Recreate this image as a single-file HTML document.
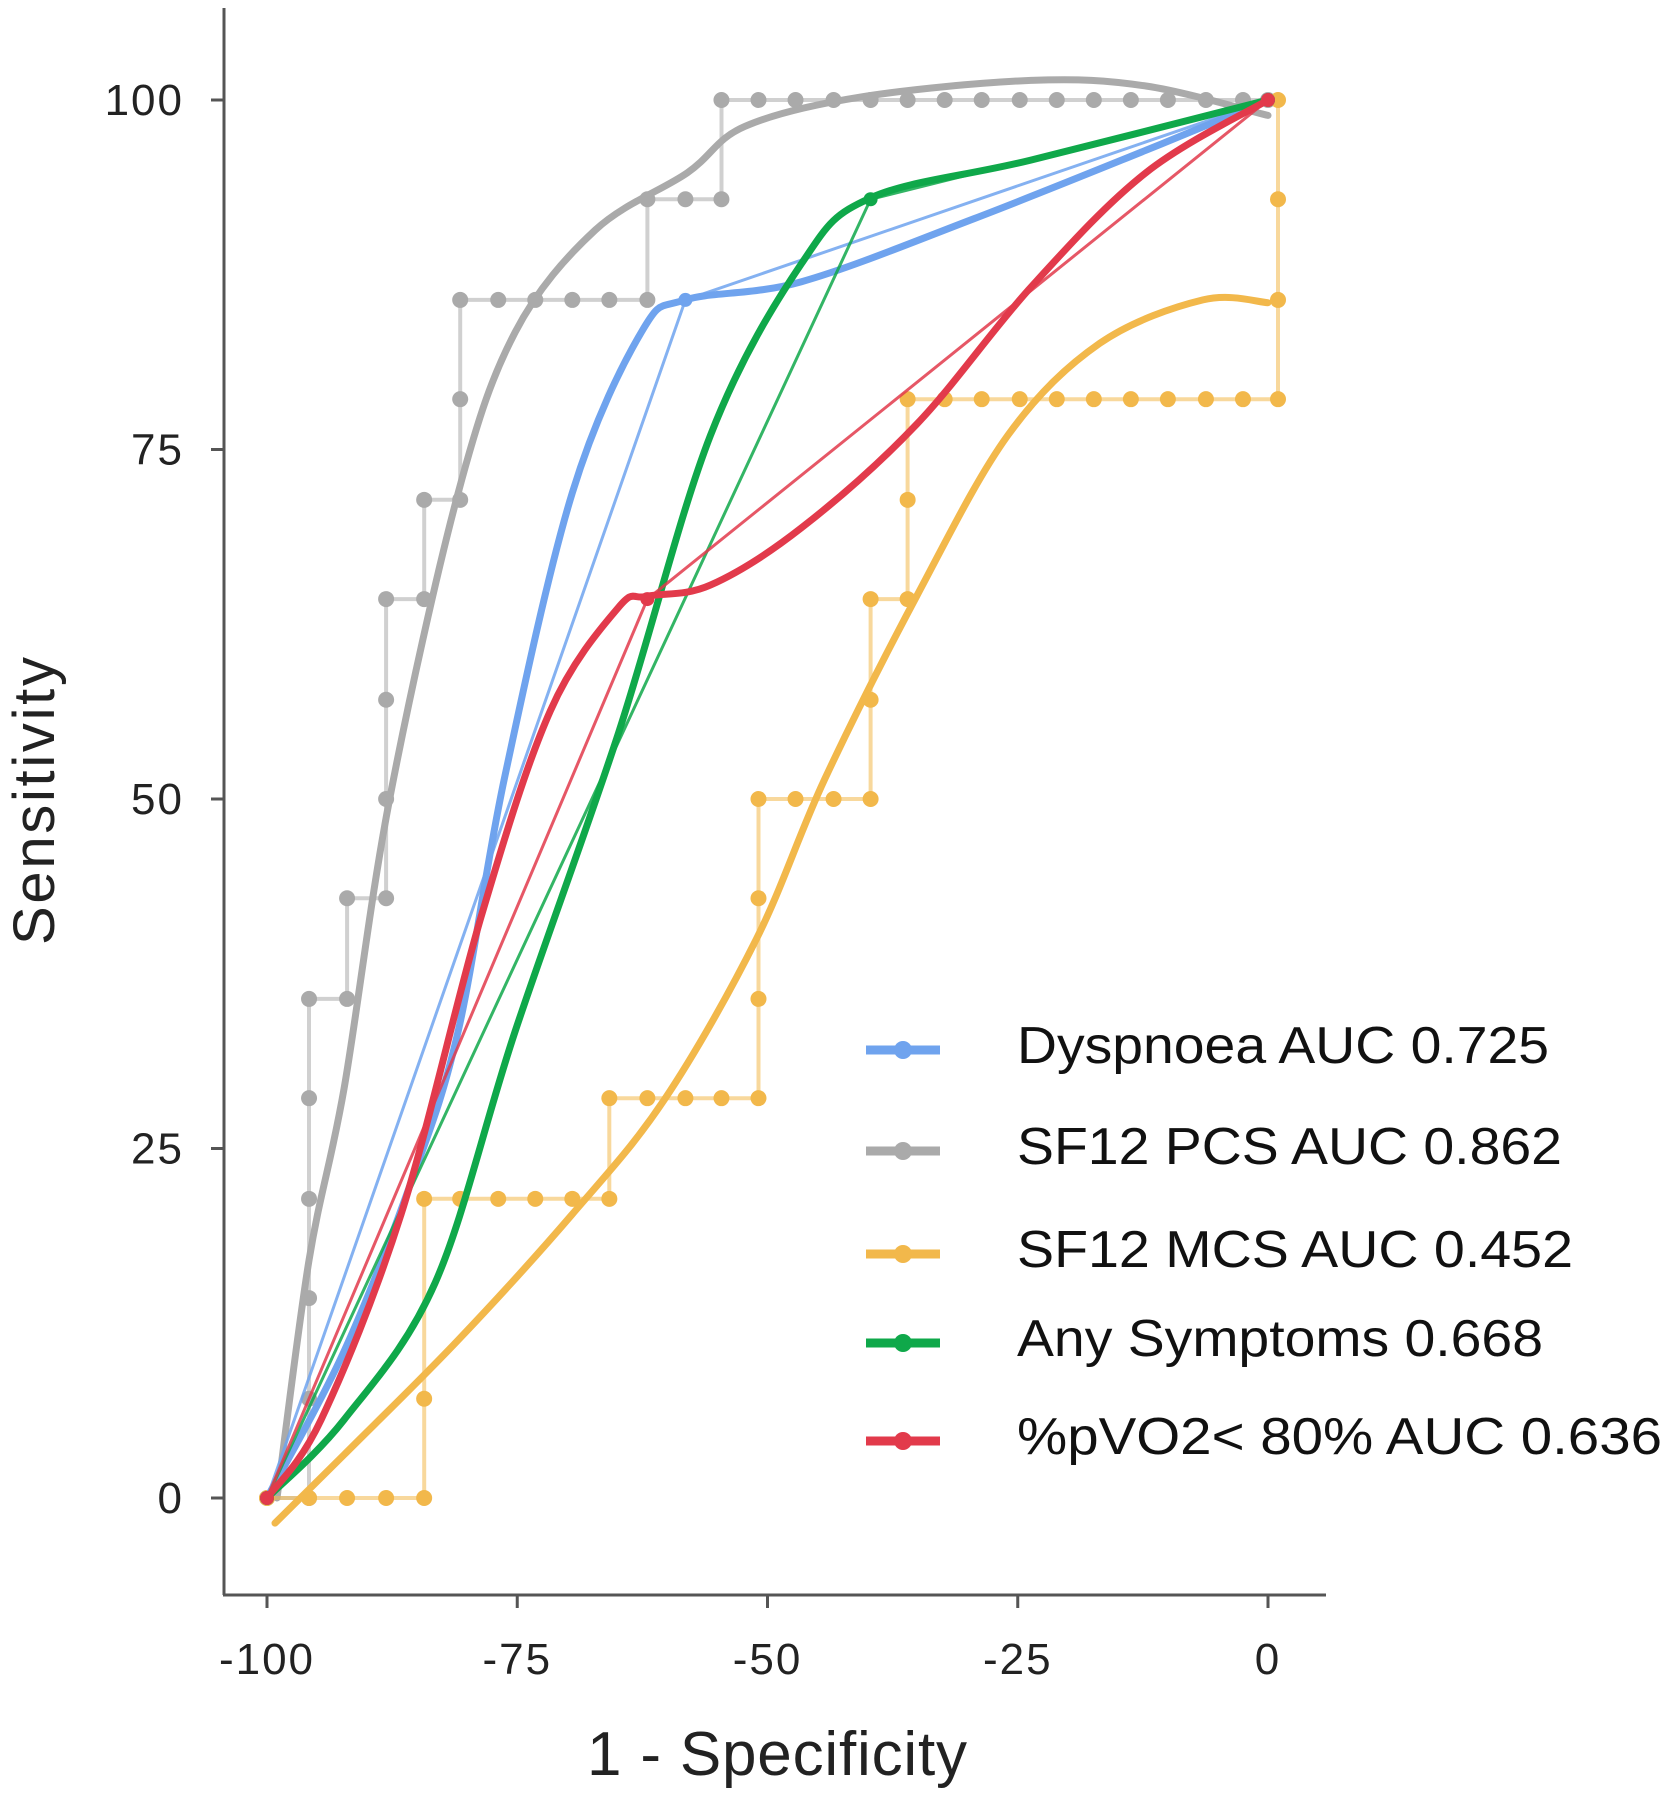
<!DOCTYPE html>
<html><head><meta charset="utf-8"><style>
html,body{margin:0;padding:0;background:#fff;}
svg{display:block;font-family:"Liberation Sans",Arial,sans-serif;}
</style></head><body>
<svg id="chart" width="1675" height="1801" viewBox="0 0 1675 1801" xmlns="http://www.w3.org/2000/svg">
<g id="axes"></g>
<g id="plot"></g>
<g id="legend"></g>
<text x="777" y="1775" font-size="62" text-anchor="middle" fill="#222" textLength="380">1 - Specificity</text>
<text transform="translate(54,801) rotate(-90)" font-size="58" text-anchor="middle" fill="#222" textLength="288">Sensitivity</text>
</svg>
<script>
// ---- data ----
const xTicks = [-100, -75, -50, -25, 0];
const yTicks = [0, 25, 50, 75, 100];
const seriesNames = ["Dyspnoea AUC 0.725","SF12 PCS AUC 0.862","SF12 MCS AUC 0.452","Any Symptoms 0.668","%pVO2< 80%  AUC 0.636"];
const seriesColors = ["#6fa3ee","#aaaaaa","#f2b84b","#0fa84a","#e23a4b"];

const grayStepX = [-100,-95.8,-95.8,-95.8,-95.8,-95.8,-95.8,-92,-92,-88.1,-88.1,-88.1,-88.1,-84.3,-84.3,-80.7,-80.7,-80.7,-76.9,-73.2,-69.5,-65.8,-62,-62,-58.2,-54.6,-54.6,-50.9,-47.2,-43.4,-39.7,-36,-32.3,-28.6,-24.8,-21.1,-17.4,-13.7,-10,-6.2,-2.5,0];
const grayStepY = [0,0,7.1,14.3,21.4,28.6,35.7,35.7,42.9,42.9,50,57.1,64.3,64.3,71.4,71.4,78.6,85.7,85.7,85.7,85.7,85.7,85.7,92.9,92.9,92.9,100,100,100,100,100,100,100,100,100,100,100,100,100,100,100,100];

const orangeStepX = [-100,-95.8,-92,-88.1,-84.3,-84.3,-84.3,-80.7,-76.9,-73.2,-69.5,-65.8,-65.8,-62,-58.2,-54.6,-50.9,-50.9,-50.9,-50.9,-47.2,-43.4,-39.7,-39.7,-39.7,-36,-36,-36,-32.3,-28.6,-24.8,-21.1,-17.4,-13.7,-10,-6.2,-2.5,1,1,1,1];
const orangeStepY = [0,0,0,0,0,7.1,21.4,21.4,21.4,21.4,21.4,21.4,28.6,28.6,28.6,28.6,28.6,35.7,42.9,50,50,50,50,57.1,64.3,64.3,71.4,78.6,78.6,78.6,78.6,78.6,78.6,78.6,78.6,78.6,78.6,78.6,85.7,92.9,100];

const blueX = [-100,-58.2,0];
const blueY = [0,85.7,100];
const greenX = [-100,-39.7,0];
const greenY = [0,92.9,100];
const redX = [-100,-62,0];
const redY = [0,64.3,100];

const graySmoothX = [-99,-95.8,-92.3,-87.8,-80.9,-75.2,-67.2,-58,-52.3,-40.8,-23.7,-12.2,0];
const graySmoothY = [0,17,29.3,49.8,71.9,83.4,90.7,94.8,98.1,100.2,101.4,101,98.9];
const blueSmoothX = [-100,-92.3,-85.5,-80.9,-76.3,-69.5,-62.6,-58.2,-46.6,-29.4,-12.2,0];
const blueSmoothY = [0,10.5,22.8,33.4,51.4,71.9,83.4,85.7,87,91.5,96.4,100];
const orangeSmoothX = [-99.2,-92.3,-80.9,-69.5,-60.3,-51.1,-44.3,-35.1,-26,-16.8,-6.5,0];
const orangeSmoothY = [-1.8,3.1,11.3,20.3,28.5,40,51.4,64.5,76,82.6,85.7,85.5];
const greenSmoothX = [-100,-92.3,-83.2,-75.2,-64.9,-55.7,-46.6,-39.7,-23.7,0];
const greenSmoothY = [0,5.6,15.4,33.4,54.7,76,88.3,93,95.7,100];
const redSmoothX = [-100,-94.6,-86.6,-78.6,-71.7,-64.9,-62,-55.7,-46.6,-35.1,-23.7,-12.2,0];
const redSmoothY = [0,5.6,20.3,41.6,56.3,63.7,64.5,65.3,69.4,76.8,86.6,94.8,100];

// ---- scales ----
function X(v){ return 1268 + v*10.01; }
function Y(v){ return 1498 - v*13.98; }
const NS = "http://www.w3.org/2000/svg";
function mk(tag, attrs, parent){ const e=document.createElementNS(NS,tag); for(const k in attrs) e.setAttribute(k,attrs[k]); parent.appendChild(e); return e; }
function linePath(xs,ys){ return xs.map((x,i)=>(i?"L":"M")+X(x).toFixed(1)+","+Y(ys[i]).toFixed(1)).join(""); }
function smoothPath(xs,ys){
  const p=xs.map((x,i)=>[X(x),Y(ys[i])]);
  let d="M"+p[0][0]+","+p[0][1];
  for(let i=0;i<p.length-1;i++){
    const p0=p[Math.max(i-1,0)],p1=p[i],p2=p[i+1],p3=p[Math.min(i+2,p.length-1)];
    const c1=[p1[0]+(p2[0]-p0[0])/6,p1[1]+(p2[1]-p0[1])/6];
    const c2=[p2[0]-(p3[0]-p1[0])/6,p2[1]-(p3[1]-p1[1])/6];
    d+="C"+c1[0].toFixed(1)+","+c1[1].toFixed(1)+" "+c2[0].toFixed(1)+","+c2[1].toFixed(1)+" "+p2[0].toFixed(1)+","+p2[1].toFixed(1);
  }
  return d;
}

// ---- axes ----
const axes=document.getElementById('axes');
let el;
el=mk('line',{x1:224,y1:8,x2:224,y2:1595,stroke:'#555','stroke-width':3},axes);


el=mk('line',{x1:223,y1:1595,x2:1326,y2:1595,stroke:'#555','stroke-width':3},axes);


xTicks.forEach(t=>{
  el=mk('line',{x1:X(t),y1:1595,x2:X(t),y2:1608,stroke:'#555','stroke-width':3},axes);
  
  
  el=mk('text',{x:X(t),y:1674,'font-size':44,'text-anchor':'middle',fill:'#222','letter-spacing':2},axes);
  el.textContent=String(t);
  
  
});
yTicks.forEach(t=>{
  el=mk('text',{x:184,y:Y(t)+15,'font-size':44,'text-anchor':'end',fill:'#222','letter-spacing':2},axes);
  el.textContent=String(t);
  
  
  el=mk('line',{x1:211,y1:Y(t),x2:224,y2:Y(t),stroke:'#555','stroke-width':3},axes);
  
  
});

// ---- series ----
const plot=document.getElementById('plot');
function stepSeries(xs,ys,color,name){
  const g=mk('g',{},plot);
  
  
  mk('path',{d:linePath(xs,ys),fill:'none',stroke:color,'stroke-width':4,'stroke-opacity':0.55},g);
  xs.forEach((x,i)=>{
    const c=mk('circle',{cx:X(x),cy:Y(ys[i]),r:8,fill:color},g);
    
    
  });
}
function thinLine(xs,ys,color,name){
  el=mk('path',{d:linePath(xs,ys),fill:'none',stroke:color,'stroke-width':3,'stroke-opacity':0.85},plot);
  
  
  xs.forEach((x,i)=>{
    const c=mk('circle',{cx:X(x),cy:Y(ys[i]),r:7,fill:color},plot);
    
    
  });
}
function smooth(xs,ys,color,name){
  el=mk('path',{d:smoothPath(xs,ys),fill:'none',stroke:color,'stroke-width':7,'stroke-linecap':'round'},plot);
  
  
}
stepSeries(grayStepX,grayStepY,seriesColors[1],'sf12-pcs');
smooth(graySmoothX,graySmoothY,seriesColors[1],'sf12-pcs');
stepSeries(orangeStepX,orangeStepY,seriesColors[2],'sf12-mcs');
smooth(orangeSmoothX,orangeSmoothY,seriesColors[2],'sf12-mcs');
thinLine(blueX,blueY,seriesColors[0],'dyspnoea');
smooth(blueSmoothX,blueSmoothY,seriesColors[0],'dyspnoea');
thinLine(greenX,greenY,seriesColors[3],'any-symptoms');
smooth(greenSmoothX,greenSmoothY,seriesColors[3],'any-symptoms');
thinLine(redX,redY,seriesColors[4],'pvo2');
smooth(redSmoothX,redSmoothY,seriesColors[4],'pvo2');

// ---- legend ----
const legend=document.getElementById('legend');
const legendRowY=[1044,1145,1248,1337,1435];
const legendTextLen=[532,545,556,526,645];
seriesNames.forEach((n,i)=>{
  const g=mk('g',{},legend);
  
  
  const yy=legendRowY[i]+6;
  mk('line',{x1:866,y1:yy,x2:940,y2:yy,stroke:seriesColors[i],'stroke-width':9},g);
  mk('circle',{cx:903,cy:yy,r:9,fill:seriesColors[i]},g);
  const t=mk('text',{x:1017,y:legendRowY[i]+19,'font-size':52,fill:'#111',textLength:legendTextLen[i],lengthAdjust:'spacingAndGlyphs'},g);
  t.textContent=n;
});
</script>
</body></html>
